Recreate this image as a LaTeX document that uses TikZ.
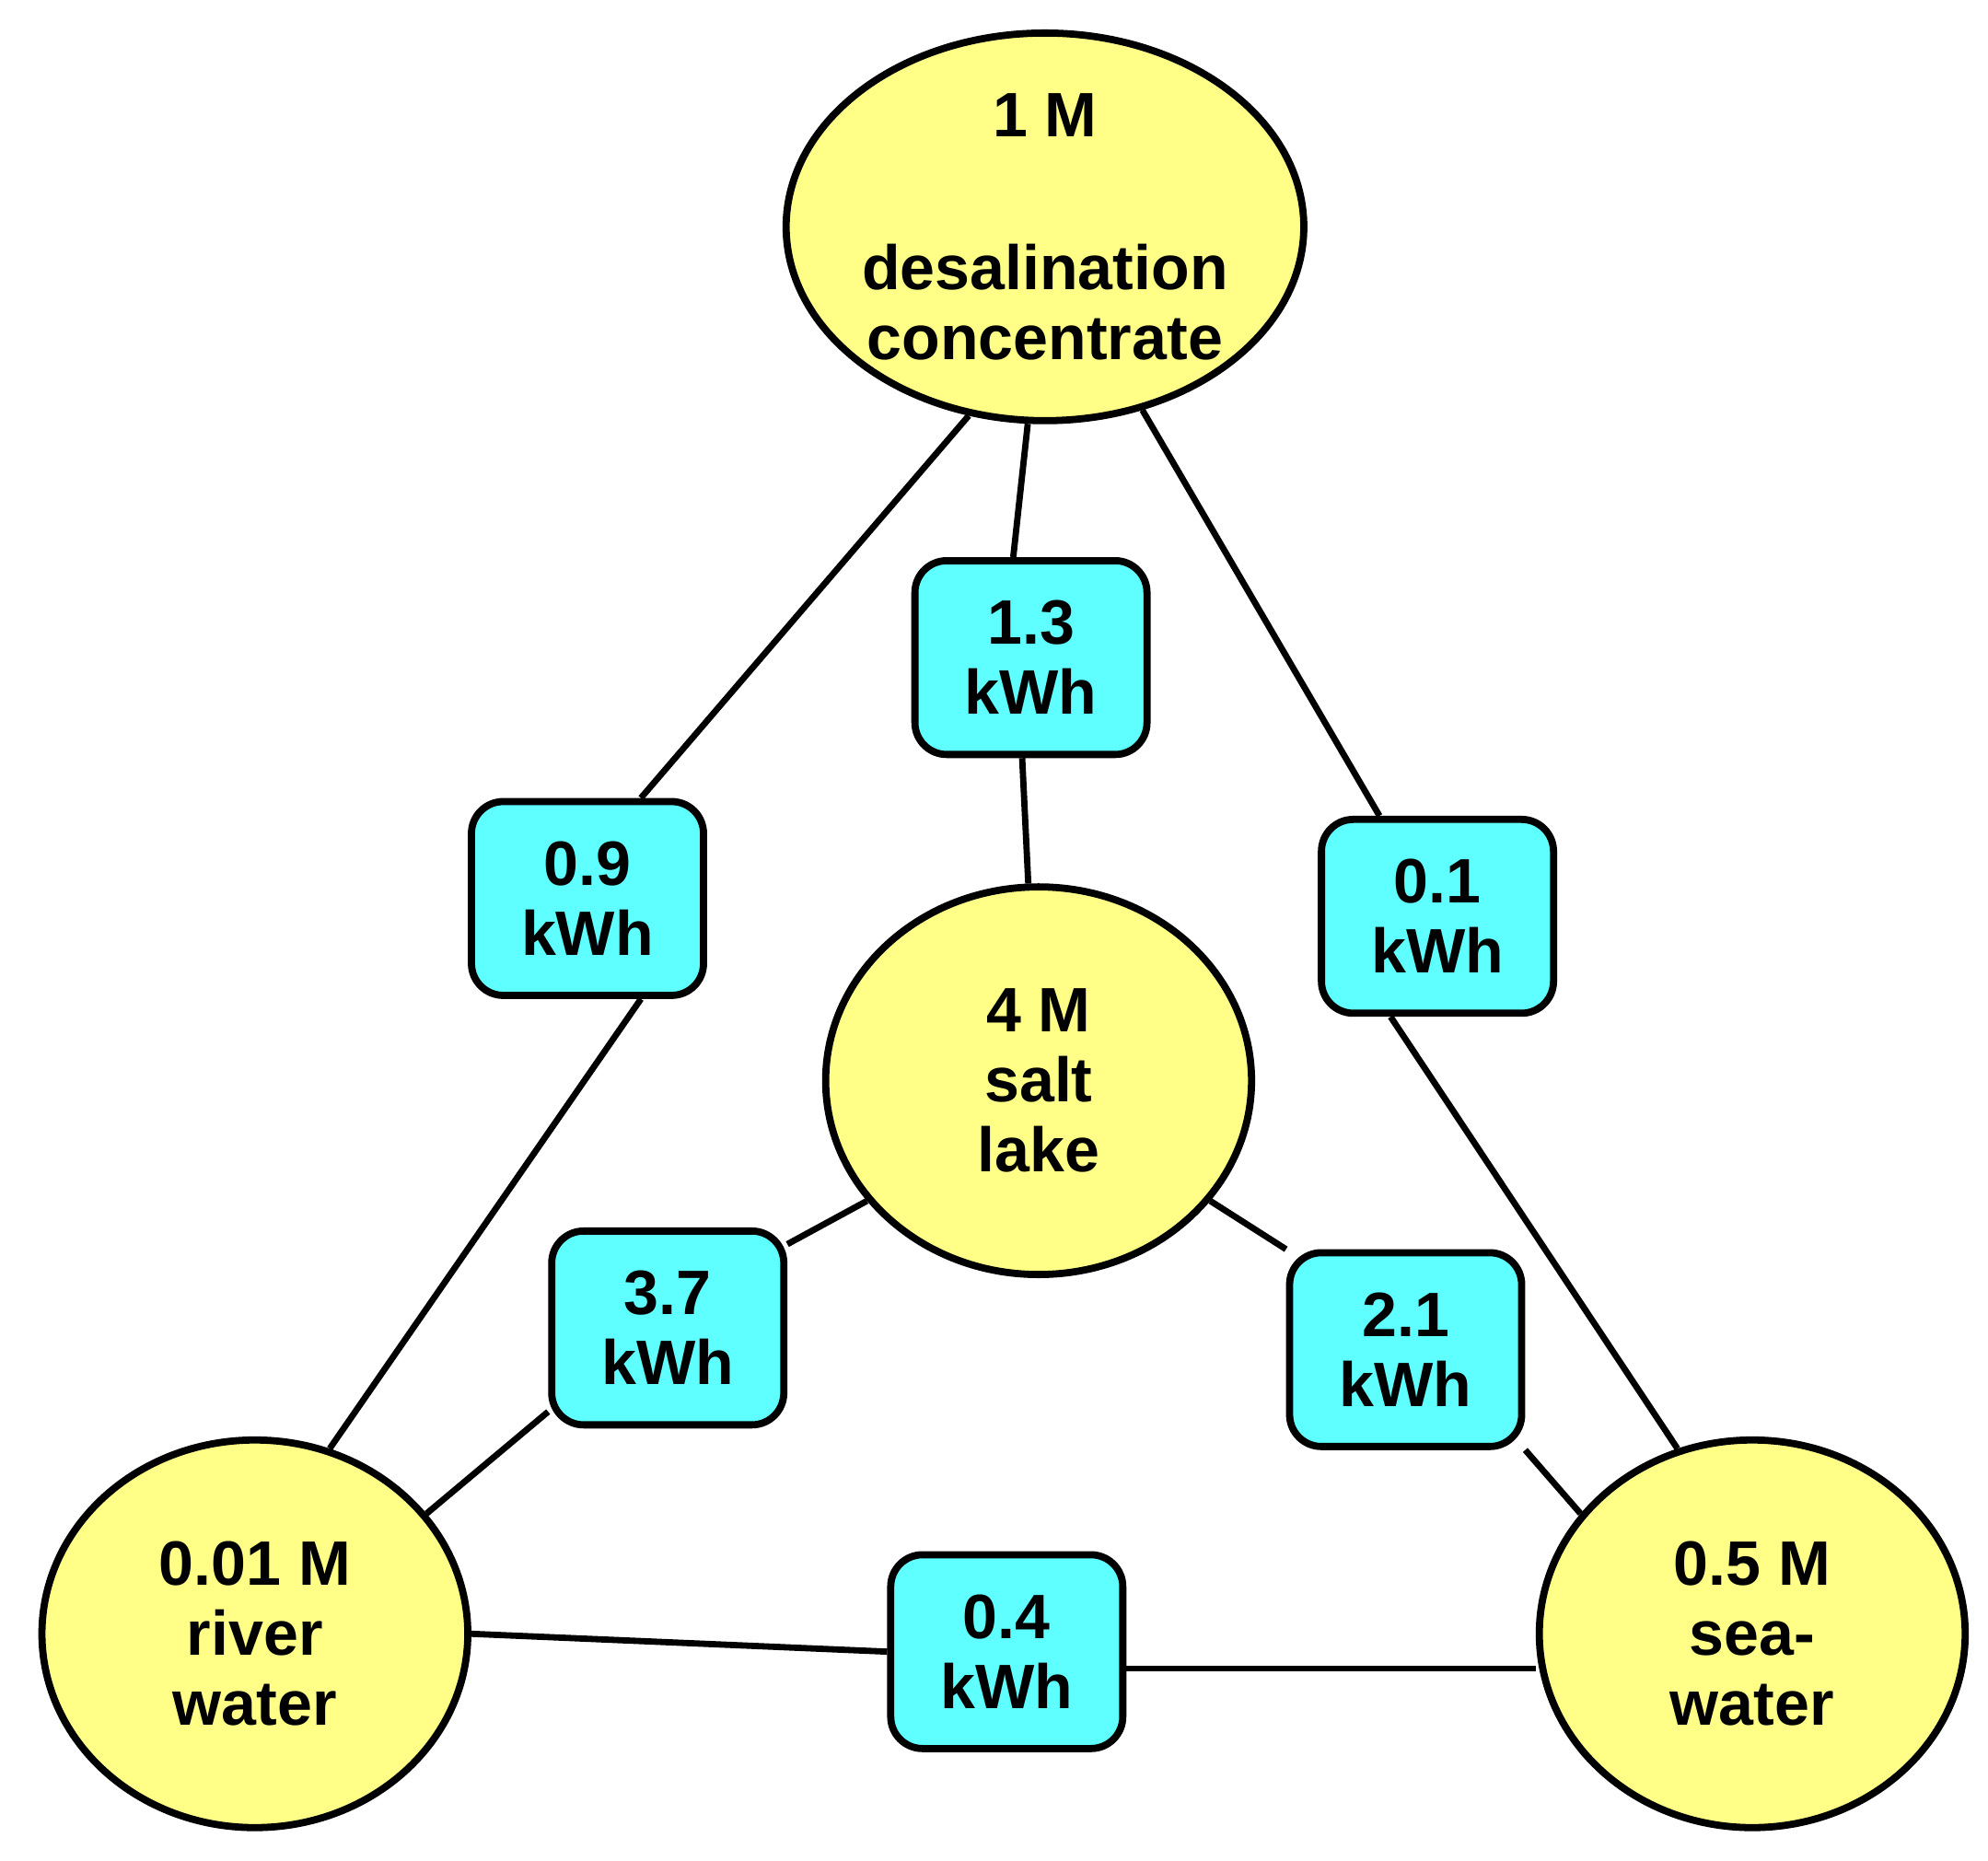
\documentclass[tikz,border=0pt]{standalone}
\usepackage{fontspec}
\setmainfont{Liberation Sans}
\usetikzlibrary{shapes.geometric}
\definecolor{yel}{HTML}{FFFF88}
\definecolor{cy}{HTML}{5FFFFF}
\begin{document}
\begin{tikzpicture}[x=0.01cm,y=-0.01cm,
  circ/.style={ellipse,draw,line width=1.6pt,fill=yel,minimum width=3.34cm,minimum height=3.04cm,inner sep=0pt,align=center,font=\fontsize{14}{15.6}\selectfont\bfseries},
  box/.style={rectangle,rounded corners=0.25cm,draw,line width=1.6pt,fill=cy,minimum width=1.82cm,minimum height=1.52cm,inner sep=0pt,align=center,font=\fontsize{14}{15.6}\selectfont\bfseries},
  con/.style={line width=1.4pt}]
\useasboundingbox (0,0) rectangle (1560,1460);
\node[circ] (top) at (820,178) {1 M\\[0.65cm]desalination\\concentrate};
\node[circ] (salt) at (815,848) {4 M\\salt\\lake};
\node[circ] (river) at (200,1282) {0.01 M\\river\\water};
\node[circ] (sea) at (1375,1282) {0.5 M\\sea-\\water};
\node[box] (b13) at (809,516) {1.3\\kWh};
\node[box] (b09) at (461,705) {0.9\\kWh};
\node[box] (b01) at (1128,719) {0.1\\kWh};
\node[box] (b37) at (524,1042) {3.7\\kWh};
\node[box] (b21) at (1103,1059) {2.1\\kWh};
\node[box] (b04) at (790,1296) {0.4\\kWh};
\begin{scope}[on background layer/.style={}]
\end{scope}
\begin{pgfinterruptboundingbox}\end{pgfinterruptboundingbox}
\draw[con] (top.-112) -- (b09.62);
\draw[con] (b09.-62) -- (river.68);
\draw[con] (top.-95) -- (b13.100);
\draw[con] (b13.-95) -- (salt.93);
\draw[con] (top.-62) -- (b01.120);
\draw[con] (b01.-115) -- (sea.112);
\draw[con] (salt.-145) -- (b37.35);
\draw[con] (b37.-145) -- (river.35);
\draw[con] (salt.-35) -- (b21.140);
\draw[con] (b21.-40) -- (sea.145);
\draw[con] (river.east) -- (b04.west);
\draw[con] (b04.-8) -- (sea.west|-b04.-8);
\end{tikzpicture}
\end{document}
